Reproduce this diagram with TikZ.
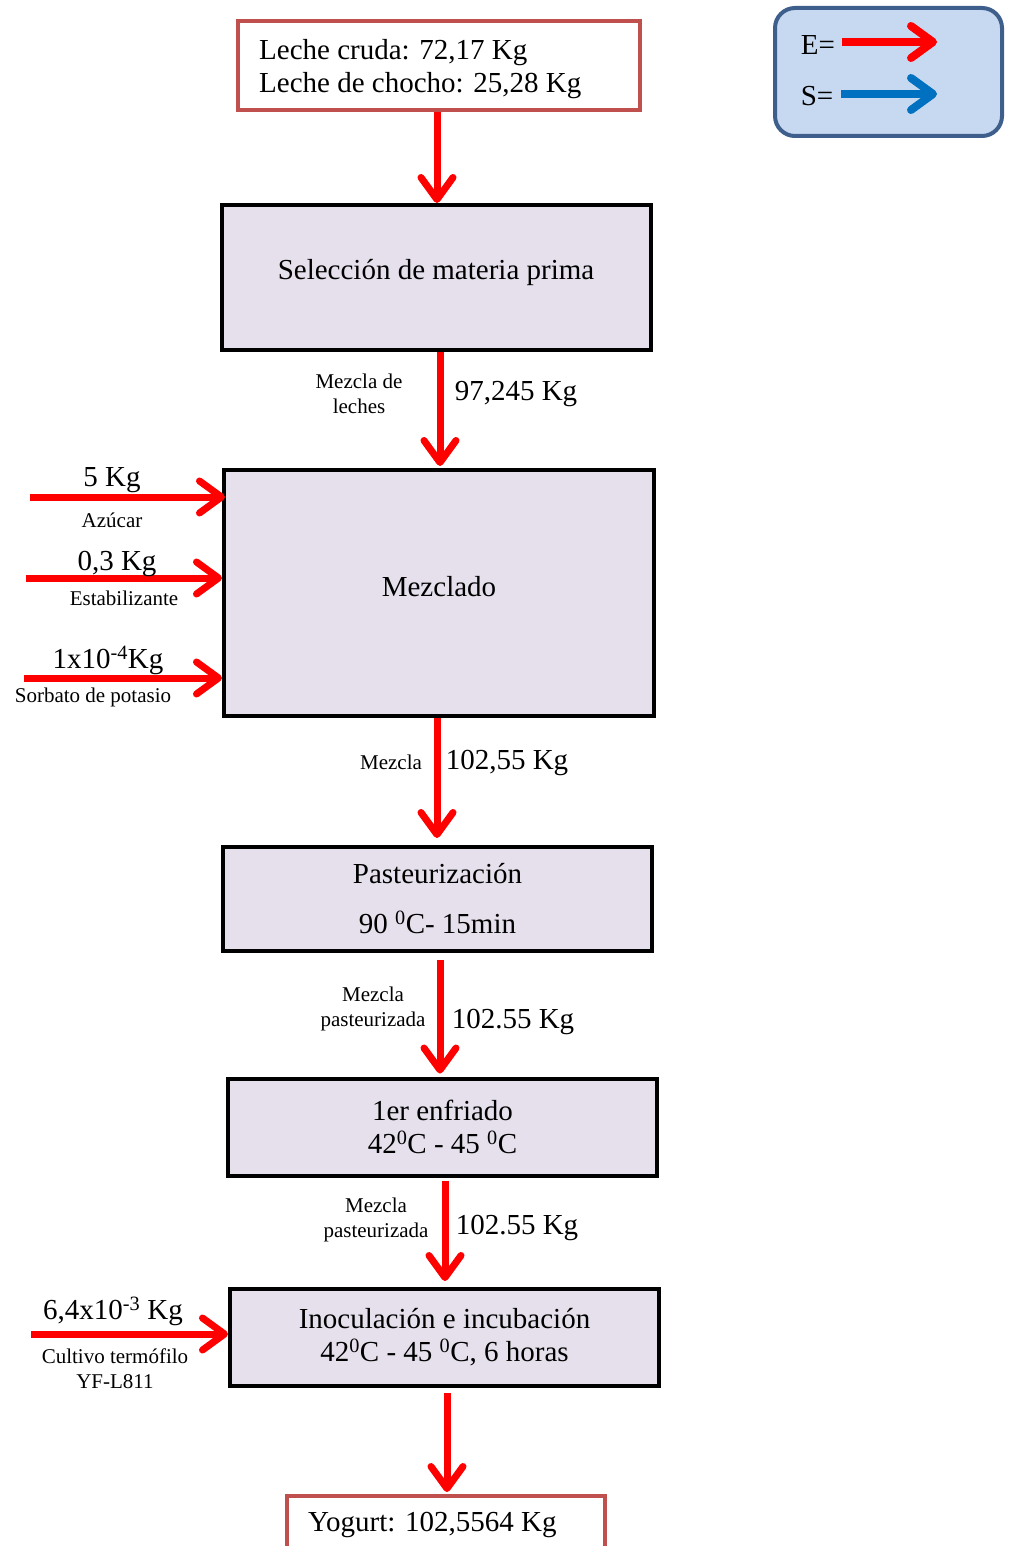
\documentclass[tikz,border=0pt]{standalone}
\usepackage{fontspec}
\setmainfont{Liberation Serif}
\usetikzlibrary{arrows.meta}
\definecolor{boxfill}{HTML}{E5E0EC}
\definecolor{redborder}{HTML}{C0504D}
\definecolor{legfill}{HTML}{C6D9F1}
\definecolor{legborder}{HTML}{3E5E8C}
\definecolor{legblue}{HTML}{0070C0}
\begin{document}
\begin{tikzpicture}[x=1pt,y=-1pt,
  big/.style={font=\fontsize{29}{33}\selectfont},
  small/.style={font=\fontsize{21}{25}\selectfont},
  proc/.style={draw=black, line width=4pt, fill=boxfill, big, align=center, inner sep=0pt},
  endbox/.style={draw=redborder, line width=4pt, fill=white, inner sep=0pt},
  lbl/.style={inner sep=0pt, align=center},
  flow/.style={draw=red, line width=7pt, -{Straight Barb[length=22pt,width=32pt,round]}},
]
\useasboundingbox (0,0) rectangle (1010,1546);

% boxes
\node[endbox, minimum width=402pt, minimum height=89pt] (top) at (439,65.5) {};
\node[lbl, big, anchor=west, align=left] (toptxt) at (259,69.5) {Leche cruda: 72,17 Kg\\Leche de chocho: 25,28 Kg};

\node[proc, minimum width=429pt, minimum height=145pt] (sel) at (436.5,277.5) {};
\node[lbl, big] (seltxt) at (436,273) {Selección de materia prima};
\node[proc, minimum width=430pt, minimum height=246pt] (mez) at (439,593) {};
\node[lbl, big] (meztxt) at (439,587) {Mezclado};
\node[proc, minimum width=429pt, minimum height=104pt] (pas) at (437.5,899) {Pasteurización\\[17pt]90 \textsuperscript{0}C- 15min};
\node[proc, minimum width=429pt, minimum height=97pt] (enf) at (442.5,1127) {1er enfriado\\42\textsuperscript{0}C - 45 \textsuperscript{0}C};
\node[proc, minimum width=429pt, minimum height=97pt] (ino) at (444.5,1337.5) {Inoculación e incubación\\42\textsuperscript{0}C - 45 \textsuperscript{0}C, 6 horas};
\node[endbox, minimum width=318pt, minimum height=80pt, anchor=north] (yog) at (446,1494) {};
\node[lbl, big, anchor=west] (yogtxt) at (308,1525) {Yogurt: 102,5564 Kg};

% legend
\node[draw=legborder, line width=4pt, fill=legfill, rounded corners=20pt, minimum width=227pt, minimum height=128pt, inner sep=0pt] (leg) at (888.5,72) {};
\node[lbl, big] (le) at (818,45) {E=};
\node[lbl, big] (ls) at (817,96) {S=};
\coordinate (leE) at (937,42);
\coordinate (lsE) at (937,94);
\draw[flow, line width=8pt] ([xshift=7pt,yshift=3pt]le.east) -- (leE);
\draw[flow, draw=legblue, line width=8pt] ([xshift=8pt,yshift=2pt]ls.east) -- (lsE);

% vertical flows
\draw[flow] ([xshift=-2pt]top.south) -- ([xshift=0.5pt]sel.north);
\draw[flow] ([xshift=3.5pt]sel.south) -- ([xshift=1pt,yshift=2pt]mez.north);
\draw[flow] ([xshift=-2pt]mez.south) -- ([xshift=-0.5pt,yshift=7pt]pas.north);
\draw[flow] ([xshift=2.5pt,yshift=-7pt]pas.south) -- ([xshift=-2.5pt,yshift=3pt]enf.north);
\draw[flow] ([xshift=2.5pt,yshift=-3pt]enf.south) -- ([xshift=0.5pt,yshift=6pt]ino.north);
\draw[flow] ([xshift=2.5pt,yshift=-5pt]ino.south) -- ([xshift=1pt,yshift=2pt]yog.north);

% input flows
\coordinate (in1) at (30,497);
\coordinate (in2) at (26,578);
\coordinate (in3) at (24,678);
\coordinate (in4) at (31,1334);
\draw[flow] (in1) -- ([xshift=3pt]in1 -| mez.west);
\draw[flow] (in2) -- (in2 -| mez.west);
\draw[flow] (in3) -- (in3 -| mez.west);
\draw[flow] (in4) -- (in4 -| ino.west);

% labels
\node[lbl, big] (l5) at (112,480) {5 Kg};
\node[lbl, small] (lazu) at (112,520) {Azúcar};
\node[lbl, big] (l03) at (117,564) {0,3 Kg};
\node[lbl, small] (lest) at (124,598) {Estabilizante};
\node[lbl, big] (l1x) at (108,660) {1x10\textsuperscript{-4}Kg};
\node[lbl, small] (lsor) at (93,697) {Sorbato de potasio};
\node[lbl, big] (l64) at (113,1311) {6,4x10\textsuperscript{-3} Kg};
\node[lbl, small] (lcul) at (115,1369) {Cultivo termófilo\\YF-L811};

\node[lbl, small] (lm1) at (359,394) {Mezcla de\\leches};
\node[lbl, big] (q1) at (516,394) {97,245 Kg};
\node[lbl, small] (lm2) at (391,762) {Mezcla};
\node[lbl, big] (q2) at (507,763) {102,55 Kg};
\node[lbl, small] (lm3) at (373,1009) {Mezcla\\pasteurizada};
\node[lbl, big] (q3) at (513,1022) {102.55 Kg};
\node[lbl, small] (lm4) at (376,1220) {Mezcla\\pasteurizada};
\node[lbl, big] (q4) at (517,1228) {102.55 Kg};
\end{tikzpicture}
\end{document}
